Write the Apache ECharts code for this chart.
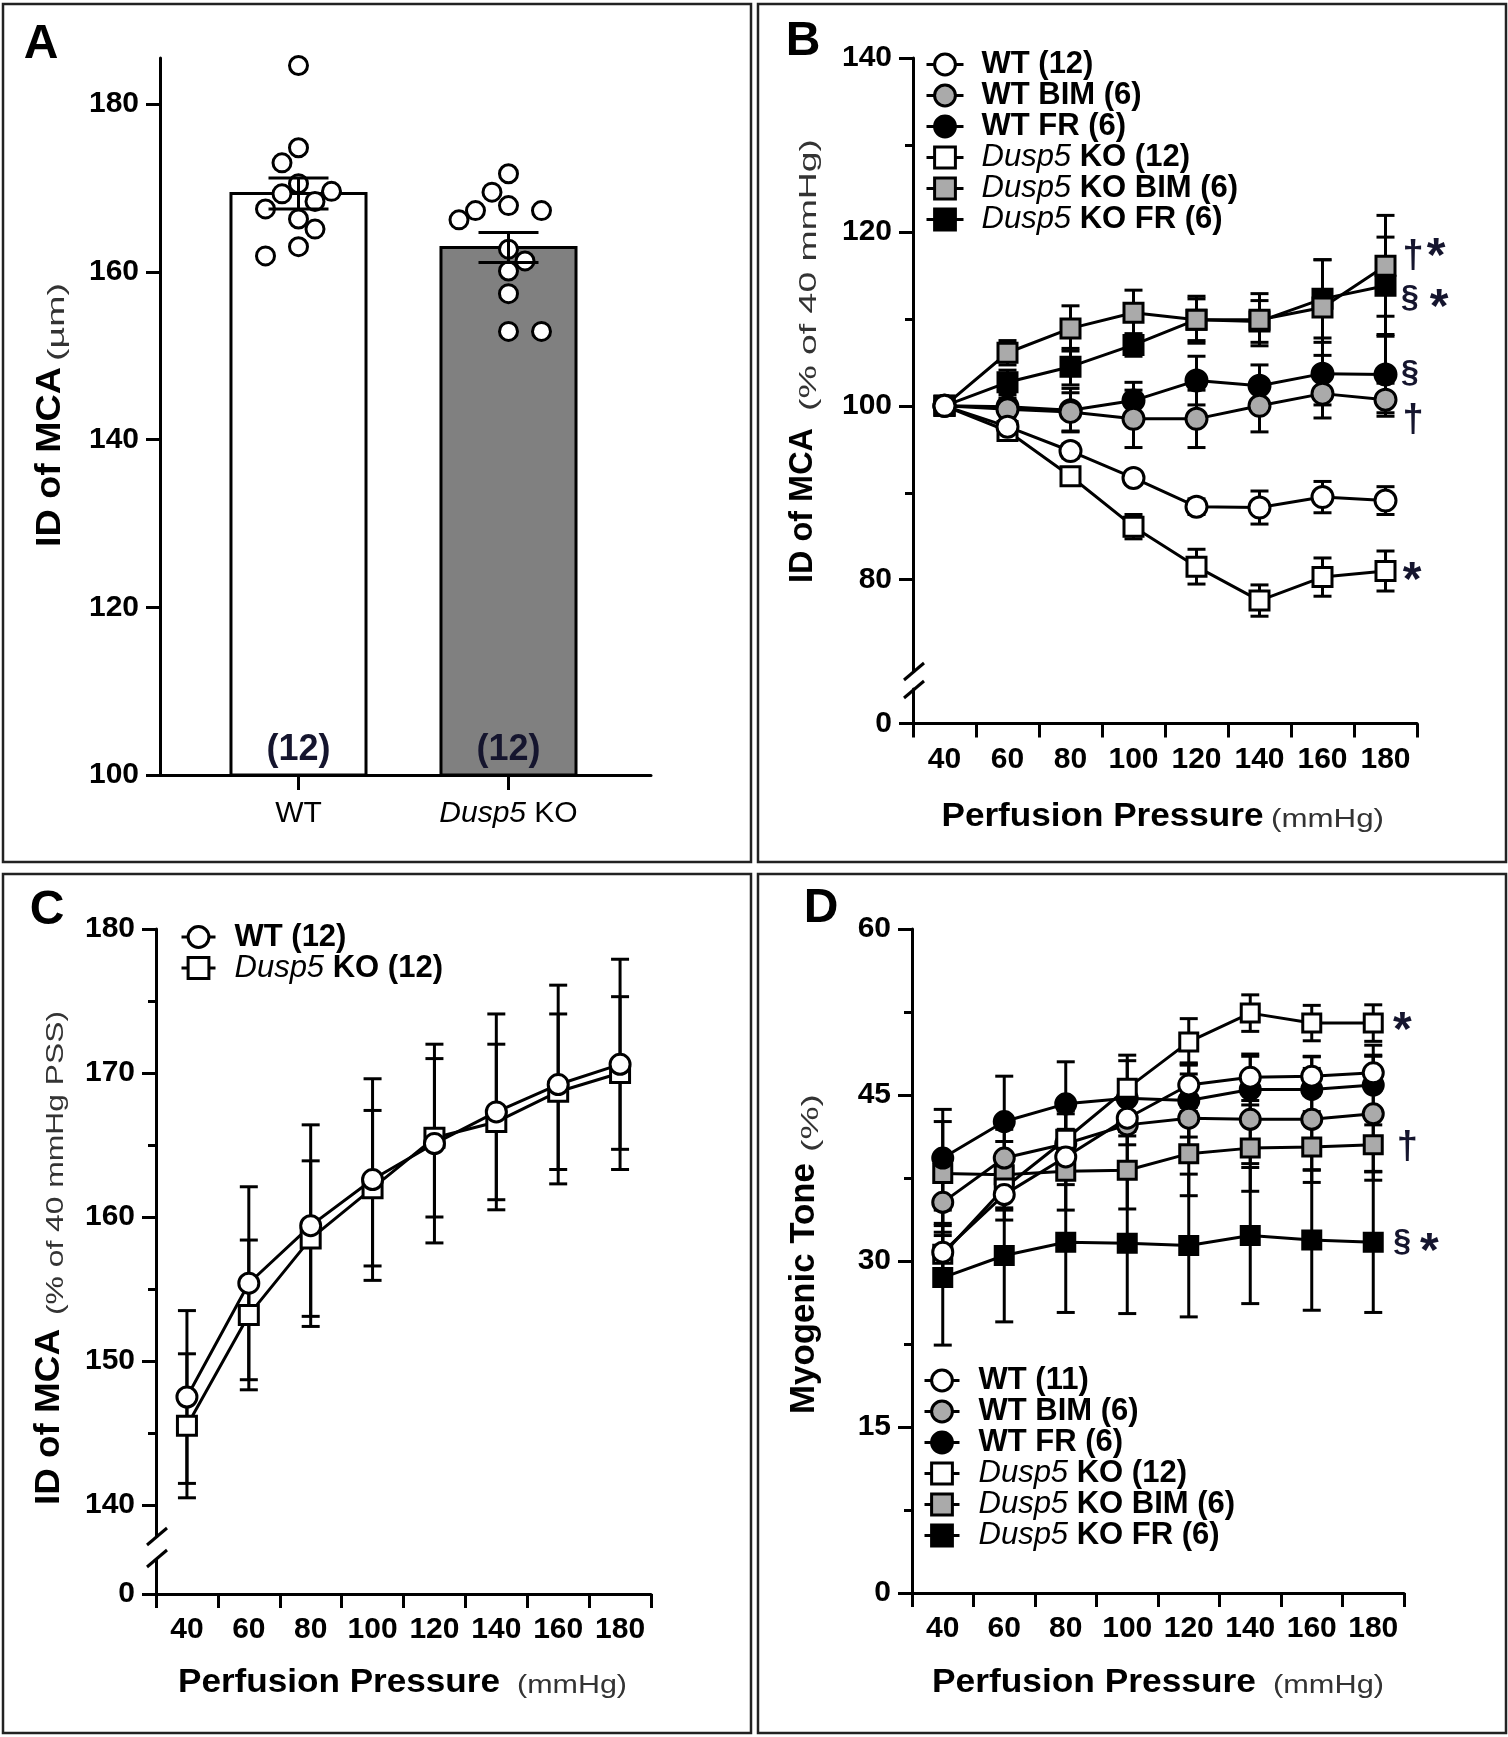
<!DOCTYPE html>
<html><head><meta charset="utf-8">
<script src="https://cdn.jsdelivr.net/npm/echarts@6/dist/echarts.min.js"></script>
<style>html,body{margin:0;padding:0;background:#fff}#c{width:1508px;height:1737px}</style>
</head><body><div id="c"></div>
<script>
// ---------------- DATA ----------------
// Panel A
const groupsA = ['WT', 'Dusp5 KO'];
const dotsWT = [184.6, 174.8, 173.0, 170.5, 169.6, 169.3, 168.4, 167.5, 166.3, 165.1, 163.0, 161.9];
const dotsKO = [171.7, 169.5, 167.9, 167.3, 167.3, 166.2, 162.7, 161.3, 160.1, 157.4, 152.9, 152.9];
const barMeanA = [169.35, 162.9];
const barSemA = [1.85, 1.8];
const barNA = [12, 12];
const ticksA = [100, 120, 140, 160, 180];
const minorTicksA = [110, 130, 150, 170];

// Pressure categories (mmHg)
const pressures = ['40', '60', '80', '100', '120', '140', '160', '180'];

// Panel B: ID of MCA (% of 40 mmHg)
const bWT = [100, 97.6, 94.8, 91.7, 88.4, 88.3, 89.5, 89.1];
const bWTErr = [0, 0.6, 0.8, 0.7, 0.9, 1.9, 1.8, 1.6];
const bWTBIM = [100, 99.6, 99.3, 98.5, 98.5, 100.0, 101.4, 100.7];
const bWTBIMErr = [0, 0.8, 2.2, 3.3, 3.3, 3.0, 2.8, 1.9];
const bWTFR = [100, 99.9, 99.5, 100.6, 102.9, 102.3, 103.7, 103.6];
const bWTFRErr = [0, 1.0, 2.5, 2.1, 2.8, 2.4, 3.6, 4.4];
const bKO = [100, 97.1, 91.9, 86.1, 81.5, 77.6, 80.3, 81.0];
const bKOErr = [0, 0.7, 0.8, 1.4, 2.0, 1.8, 2.2, 2.3];
const bKOBIM = [100, 106.1, 108.9, 110.7, 109.9, 109.9, 111.3, 116.1];
const bKOBIMErr = [0, 1.4, 2.6, 2.6, 2.7, 3.0, 5.5, 5.8];
const bKOFR = [100, 102.7, 104.5, 107.0, 109.9, 109.7, 112.3, 113.8];
const bKOFRErr = [0, 1.4, 2.1, 1.3, 2.4, 2.4, 4.5, 5.6];
const ticksB = [80, 100, 120, 140];
const minorTicksB = [90, 110, 130];

// Panel C: ID of MCA (% of 40 mmHg PSS)
const cWT = [147.5, 155.4, 159.4, 162.6, 165.1, 167.3, 169.2, 170.6];
const cWTErr = [6.0, 6.7, 7.0, 7.0, 6.9, 6.8, 6.9, 7.3];
const cKO = [145.5, 153.2, 158.5, 162.0, 165.5, 166.6, 168.7, 170.0];
const cKOErr = [5.0, 5.2, 5.4, 5.4, 5.5, 5.4, 5.4, 5.3];
const ticksC = [140, 150, 160, 170, 180];
const minorTicksC = [145, 155, 165, 175];

// Panel D: Myogenic tone (%)
const dWT = [30.8, 36.0, 39.4, 42.9, 45.9, 46.6, 46.7, 47.0];
const dWTErr = [2.6, 2.3, 2.5, 2.4, 2.0, 2.1, 1.75, 1.6];
const dWTBIM = [35.3, 39.3, 40.6, 42.3, 42.9, 42.8, 42.8, 43.3];
const dWTBIMErr = [3.0, 2.6, 3.0, 3.5, 4.0, 4.0, 4.6, 5.2];
const dWTFR = [39.3, 42.6, 44.2, 44.7, 44.5, 45.5, 45.5, 45.9];
const dWTFRErr = [4.4, 4.1, 3.8, 3.4, 3.3, 3.0, 3.0, 3.6];
const dKO = [30.6, 36.6, 41.0, 45.6, 49.8, 52.4, 51.5, 51.5];
const dKOErr = [2.0, 2.0, 2.3, 3.0, 2.1, 1.65, 1.6, 1.65];
const dKOBIM = [37.9, 37.8, 38.1, 38.2, 39.7, 40.2, 40.3, 40.5];
const dKOBIMErr = [4.7, 3.0, 3.5, 3.5, 3.8, 3.9, 3.2, 3.2];
const dKOFR = [28.5, 30.5, 31.7, 31.6, 31.4, 32.3, 31.9, 31.7];
const dKOFRErr = [6.1, 6.0, 6.35, 6.35, 6.45, 6.15, 6.35, 6.35];
const ticksD = [0, 15, 30, 45, 60];
const minorTicksD = [7.5, 22.5, 37.5, 52.5];

// Legend names
const legB = ['WT (12)', 'WT BIM (6)', 'WT FR (6)', 'Dusp5 KO (12)', 'Dusp5 KO BIM (6)', 'Dusp5 KO FR (6)'];
const legC = ['WT (12)', 'Dusp5 KO (12)'];
const legD = ['WT (11)', 'WT BIM (6)', 'WT FR (6)', 'Dusp5 KO (12)', 'Dusp5 KO BIM (6)', 'Dusp5 KO FR (6)'];

// ---------------- STYLE / LAYOUT ----------------
const FF = '"Liberation Sans", Arial, Helvetica, sans-serif';
const AX = {color: '#000', width: 3};
const ANN = '#15152e';
const barFillA = ['#ffffff', '#808080'];
const GRAY = '#aaaaaa';
const STY = {
  WT: {symbol: 'circle', fill: '#fff'},
  WTBIM: {symbol: 'circle', fill: GRAY},
  WTFR: {symbol: 'circle', fill: '#000'},
  KO: {symbol: 'rect', fill: '#fff'},
  KOBIM: {symbol: 'rect', fill: GRAY},
  KOFR: {symbol: 'rect', fill: '#000'}
};
// Panel A geometry
const A_L = 160, A_T = 58, A_W = 491, A_H = 717;
const A_XMIN = -0.6595, A_XMAX = 1.6786, A_YMIN = 100, A_YMAX = 185.5;
const BAR_W = 0.643;

const chart = echarts.init(document.getElementById('c'), null, {renderer: 'canvas', width: 1508, height: 1737});

// beeswarm layout for dots (computed from the values)
const pxPerXA = A_W / (A_XMAX - A_XMIN);
const pxPerYA = A_H / (A_YMAX - A_YMIN);
function swarm(vals) {
  const STEP = 16.5, D = 19;
  const idx = vals.map((v, i) => i).sort((a, b) => vals[b] - vals[a]);
  const placed = []; const off = new Array(vals.length).fill(0);
  let neg = 0, pos = 0;
  for (const i of idx) {
    const y = vals[i] * pxPerYA;
    const cands = [0];
    for (let k = 1; k <= 3; k++) { if (neg <= pos) cands.push(-k, k); else cands.push(k, -k); }
    let chosen = cands[cands.length - 1];
    for (const c of cands) {
      const x = c * STEP;
      if (placed.every(p => Math.hypot(p.x - x, p.y - y) >= D)) { chosen = c; break; }
    }
    placed.push({x: chosen * STEP, y});
    off[i] = chosen * STEP / pxPerXA;
    if (chosen < 0) neg++; else if (chosen > 0) pos++;
  }
  return off;
}
const offWT = swarm(dotsWT), offKO = swarm(dotsKO);

function errRender(cap, lw) {
  return function (params, api) {
    const x = api.value(0), m = api.value(1), e = api.value(2);
    if (!(e > 0)) return {type: 'group', children: []};
    const hi = api.coord([x, m + e]), lo = api.coord([x, m - e]);
    const h = cap / 2;
    const st = {stroke: '#000', lineWidth: lw};
    return {type: 'group', children: [
      {type: 'line', shape: {x1: hi[0], y1: hi[1], x2: lo[0], y2: lo[1]}, style: st},
      {type: 'line', shape: {x1: hi[0] - h, y1: hi[1], x2: hi[0] + h, y2: hi[1]}, style: st},
      {type: 'line', shape: {x1: lo[0] - h, y1: lo[1], x2: lo[0] + h, y2: lo[1]}, style: st}
    ]};
  };
}
function errSeries(means, errs, xi, yi, cap) {
  return {type: 'custom', xAxisIndex: xi, yAxisIndex: yi, silent: true, z: 1,
    encode: {x: 0, y: 1}, data: means.map((m, i) => [i, m, errs[i]]), renderItem: errRender(cap, 3)};
}
function lineSeries(id, name, data, kind, xi, yi, cs, rs) {
  const s = STY[kind];
  return {type: 'line', id, name, xAxisIndex: xi, yAxisIndex: yi, data, z: 2,
    symbol: s.symbol, symbolSize: s.symbol === 'circle' ? cs : rs, showSymbol: true, showAllSymbol: true,
    clip: false, silent: true, emphasis: {disabled: true},
    lineStyle: {color: '#000', width: 3}, itemStyle: {color: s.fill, borderColor: '#000', borderWidth: 3, opacity: 1}};
}
function yMajor(gi, min, max, ticks) {
  return {type: 'value', gridIndex: gi, min, max, position: 'left',
    axisLine: {show: true, onZero: false, lineStyle: AX},
    axisTick: {show: true, length: 14, lineStyle: AX, customValues: ticks},
    axisLabel: {show: true, customValues: ticks, margin: 21, color: '#000', fontFamily: FF, fontSize: 30, fontWeight: 'bold'},
    splitLine: {show: false}};
}
function yMinor(gi, min, max, ticks) {
  return {type: 'value', gridIndex: gi, min, max, position: 'left',
    axisLine: {show: false}, axisTick: {show: true, length: 8, lineStyle: AX, customValues: ticks},
    axisLabel: {show: false}, splitLine: {show: false}};
}
function xCat(gi, show) {
  return {type: 'category', gridIndex: gi, data: pressures, boundaryGap: true, show,
    axisLine: {show: true, onZero: false, lineStyle: AX},
    axisTick: {show: true, length: 14, interval: 0, lineStyle: AX},
    axisLabel: {show: true, interval: 0, margin: 21, color: '#000', fontFamily: FF, fontSize: 30, fontWeight: 'bold'},
    splitLine: {show: false}};
}
function legendCfg(names, left, top, rowH, iconW, padL) {
  return {orient: 'vertical', left, top, padding: 0, itemGap: 0, itemWidth: iconW, itemHeight: 26,
    data: names, selectedMode: false,
    lineStyle: {width: 3}, itemStyle: {borderWidth: 3},
    textStyle: {color: '#000', rich: {
      b0: {fontFamily: FF, fontSize: 31, fontWeight: 'bold', lineHeight: rowH, padding: [0, 0, 0, padL]},
      b: {fontFamily: FF, fontSize: 31, fontWeight: 'bold', lineHeight: rowH},
      i0: {fontFamily: FF, fontSize: 31, fontStyle: 'italic', fontWeight: 'normal', lineHeight: rowH, padding: [0, 0, 0, padL]}
    }},
    formatter: nm => nm.indexOf('Dusp5') === 0 ? '{i0|Dusp5}{b|' + nm.slice(5) + '}' : '{b0|' + nm + '}'};
}

const grids = [
  {left: A_L, top: A_T, width: A_W, height: A_H},          // 0 A
  {left: 913, top: 58, width: 504, height: 613},           // 1 B upper
  {left: 913, top: 689, width: 504, height: 34.5},         // 2 B lower
  {left: 156, top: 929, width: 495, height: 607},          // 3 C upper
  {left: 156, top: 1560, width: 495, height: 34},          // 4 C lower
  {left: 912, top: 929, width: 492, height: 664}           // 5 D
].map(g => Object.assign({containLabel: false, outerBoundsMode: 'none'}, g));

const xAxes = [
  {type: 'value', gridIndex: 0, min: A_XMIN, max: A_XMAX,
    axisLine: {show: true, onZero: false, lineStyle: AX},
    axisTick: {show: true, length: 15, lineStyle: AX, customValues: [0, 1]},
    axisLabel: {show: true, customValues: [0, 1], margin: 24, color: '#000',
      formatter: v => { const n = groupsA[Math.round(v)]; return n.indexOf('Dusp5') === 0 ? '{i|Dusp5}{n|' + n.slice(5) + '}' : '{n|' + n + '}'; },
      rich: {n: {fontFamily: FF, fontSize: 30, fontWeight: 'normal', color: '#000'},
             i: {fontFamily: FF, fontSize: 30, fontStyle: 'italic', fontWeight: 'normal', color: '#000'}}},
    splitLine: {show: false}},
  xCat(1, false), xCat(2, true), xCat(3, false), xCat(4, true), xCat(5, true)
];
const yAxes = [
  yMajor(0, A_YMIN, A_YMAX, ticksA), yMinor(0, A_YMIN, A_YMAX, minorTicksA),           // 0,1
  yMajor(1, 69.5, 140, ticksB), yMinor(1, 69.5, 140, minorTicksB),                     // 2,3
  yMajor(2, 0, 34.5 / 8.695, [0]),                                                     // 4
  yMajor(3, 180 - 607 / 14.4, 180, ticksC), yMinor(3, 180 - 607 / 14.4, 180, minorTicksC), // 5,6
  yMajor(4, 0, 34 / 14.4, [0]),                                                        // 7
  yMajor(5, 0, 60, ticksD), yMinor(5, 0, 60, minorTicksD)                              // 8,9
];

const series = [];
// Panel A
series.push({type: 'custom', xAxisIndex: 0, yAxisIndex: 0, z: 1, silent: true, encode: {x: 0, y: 1},
  data: barMeanA.map((m, i) => [i, m, barNA[i]]),
  renderItem: (params, api) => {
    const i = api.value(0), m = api.value(1);
    const top = api.coord([i, m]), base = api.coord([i, A_YMIN]);
    const w = api.size([BAR_W, 0])[0];
    return {type: 'group', children: [
      {type: 'rect', shape: {x: top[0] - w / 2, y: top[1], width: w, height: base[1] - top[1]},
        style: {fill: barFillA[i], stroke: '#000', lineWidth: 3}},
      {type: 'text', x: base[0], y: base[1] - 25,
        style: {text: '(' + api.value(2) + ')', fontFamily: FF, fontSize: 36, fontWeight: 'bold', fill: ANN, align: 'center', verticalAlign: 'middle'}}
    ]};
  }});
series.push({type: 'scatter', xAxisIndex: 0, yAxisIndex: 0, z: 2, silent: true, symbol: 'circle', symbolSize: 18,
  itemStyle: {color: '#fff', borderColor: '#000', borderWidth: 3, opacity: 1},
  data: dotsWT.map((v, i) => [0 + offWT[i], v]).concat(dotsKO.map((v, i) => [1 + offKO[i], v]))});
series.push({type: 'custom', xAxisIndex: 0, yAxisIndex: 0, z: 3, silent: true, encode: {x: 0, y: 1},
  data: barMeanA.map((m, i) => [i, m, barSemA[i]]), renderItem: errRender(60, 3)});

// Panel B (upper grid: xAxis 1, yAxis 2)
const bSets = [['bKOFR', 'Dusp5 KO FR (6)', bKOFR, bKOFRErr, 'KOFR'], ['bKOBIM', 'Dusp5 KO BIM (6)', bKOBIM, bKOBIMErr, 'KOBIM'],
  ['bWTFR', 'WT FR (6)', bWTFR, bWTFRErr, 'WTFR'], ['bWTBIM', 'WT BIM (6)', bWTBIM, bWTBIMErr, 'WTBIM'],
  ['bKO', 'Dusp5 KO (12)', bKO, bKOErr, 'KO'], ['bWT', 'WT (12)', bWT, bWTErr, 'WT']];
bSets.forEach(s => series.push(errSeries(s[2], s[3], 1, 2, 18)));
bSets.forEach(s => series.push(lineSeries(s[0], s[1], s[2], s[4], 1, 2, 21, 19)));

// Panel C (xAxis 3, yAxis 5)
const cSets = [['cKO', 'Dusp5 KO (12)', cKO, cKOErr, 'KO'], ['cWT', 'WT (12)', cWT, cWTErr, 'WT']];
cSets.forEach(s => series.push(errSeries(s[2], s[3], 3, 5, 18)));
cSets.forEach(s => series.push(lineSeries(s[0], s[1], s[2], s[4], 3, 5, 20, 19)));

// Panel D (xAxis 5, yAxis 8)
const dSets = [['dKOBIM', 'Dusp5 KO BIM (6)', dKOBIM, dKOBIMErr, 'KOBIM'], ['dKOFR', 'Dusp5 KO FR (6)', dKOFR, dKOFRErr, 'KOFR'],
  ['dWTFR', 'WT FR (6)', dWTFR, dWTFRErr, 'WTFR'], ['dWTBIM', 'WT BIM (6)', dWTBIM, dWTBIMErr, 'WTBIM'],
  ['dKO', 'Dusp5 KO (12)', dKO, dKOErr, 'KO'], ['dWT', 'WT (11)', dWT, dWTErr, 'WT']];
dSets.forEach(s => series.push(errSeries(s[2], s[3], 5, 8, 18)));
dSets.forEach(s => series.push(lineSeries(s[0], s[1], s[2], s[4], 5, 8, 20, 18)));

chart.setOption({
  animation: false,
  backgroundColor: '#fff',
  textStyle: {fontFamily: FF},
  grid: grids, xAxis: xAxes, yAxis: yAxes, series,
  legend: [legendCfg(legB, 925, 49, 35, 37, 13), legendCfg(legC, 180, 921.5, 41, 34, 14), legendCfg(legD, 923, 1365, 36, 35, 14)]
});

// ---------------- GRAPHIC (frames, letters, titles, breaks, annotations) ----------------
const mctx = document.createElement('canvas').getContext('2d');
function tw(style, weight, size, s) { mctx.font = style + ' ' + weight + ' ' + size + 'px ' + FF; return mctx.measureText(s).width; }
function vText(text, weight, size, cx, yBottom, yTop, color) {
  const sc = (yBottom - yTop) / tw('normal', weight, size, text);
  return {type: 'text', x: cx, y: yBottom, rotation: Math.PI / 2, scaleX: sc, silent: true,
    style: {text, fontFamily: FF, fontSize: size, fontWeight: weight, fill: color, align: 'left', verticalAlign: 'middle'}};
}
function hText(text, weight, size, xL, xR, cy, color) {
  const sc = (xR - xL) / tw('normal', weight, size, text);
  return {type: 'text', x: xL, y: cy, scaleX: sc, silent: true,
    style: {text, fontFamily: FF, fontSize: size, fontWeight: weight, fill: color, align: 'left', verticalAlign: 'middle'}};
}
function letter(t, cx, cy) {
  return {type: 'text', x: cx, y: cy, silent: true,
    style: {text: t, fontFamily: FF, fontSize: 48, fontWeight: 'bold', fill: '#000', align: 'center', verticalAlign: 'middle'}};
}
function frame(x, y, w, h) {
  return {type: 'rect', silent: true, shape: {x, y, width: w, height: h}, style: {fill: 'none', stroke: '#222', lineWidth: 2.5}};
}
function brk(x, y) {
  return {type: 'line', silent: true, shape: {x1: x - 9, y1: y + 8, x2: x + 11, y2: y - 9}, style: {stroke: '#000', lineWidth: 3}};
}
const g = [
  frame(3, 4, 748, 858), frame(758, 4, 748, 858), frame(3, 874, 748, 859), frame(758, 874, 748, 859),
  letter('A', 41, 45), letter('B', 803, 42), letter('C', 47, 911), letter('D', 821, 909),
  vText('ID of MCA', 'bold', 35, 50, 547, 367, '#000'), vText('(µm)', 'normal', 24, 57, 361, 283, '#333'),
  vText('ID of MCA', 'bold', 33, 803, 583, 428, '#000'), vText('(% of 40 mmHg)', 'normal', 24, 809, 411, 139, '#333'),
  vText('ID of MCA', 'bold', 35, 49, 1505, 1329, '#000'), vText('(% of 40 mmHg PSS)', 'normal', 24, 56, 1315, 1011, '#333'),
  vText('Myogenic Tone', 'bold', 35, 804, 1414, 1163, '#000'), vText('(%)', 'normal', 24, 811, 1152, 1094, '#333'),
  hText('Perfusion Pressure', 'bold', 33, 941.5, 1263.5, 817, '#000'), hText('(mmHg)', 'normal', 25, 1271, 1384, 820, '#333'),
  hText('Perfusion Pressure', 'bold', 33, 178, 500, 1683, '#000'), hText('(mmHg)', 'normal', 25, 517, 627, 1686, '#333'),
  hText('Perfusion Pressure', 'bold', 33, 932, 1256, 1683, '#000'), hText('(mmHg)', 'normal', 25, 1273, 1384, 1686, '#333'),
  brk(913, 672), brk(913, 690), brk(156, 1537), brk(156, 1559)
];
// significance marks next to the last point of a series
const ANN_FONT = {'†': [38, 0], '§': [32, 0], '*': [48, 11]};
const annotations = [
  ['bKOBIM', [['†', 27.5, -9], ['*', 50.5, -19]]],
  ['bKOFR', [['§', 24.5, 12], ['*', 53.5, 12]]],
  ['bWTFR', [['§', 24.5, -1]]],
  ['bWTBIM', [['†', 27.5, 21]]],
  ['bKO', [['*', 26.5, 0]]],
  ['dKO', [['*', 29, -2]]],
  ['dKOBIM', [['†', 34, 3]]],
  ['dKOFR', [['§', 29, 0], ['*', 56, 0]]]
];
const seriesData = {};
series.forEach(s => { if (s.id) seriesData[s.id] = s.data; });
annotations.forEach(([id, parts]) => {
  const d = seriesData[id]; const last = d.length - 1;
  const p = chart.convertToPixel({seriesId: id}, [last, d[last]]);
  parts.forEach(([t, dx, dy]) => {
    const f = ANN_FONT[t];
    g.push({type: 'text', x: p[0] + dx, y: p[1] + dy + f[1], silent: true, z: 10,
      style: {text: t, fontFamily: FF, fontSize: f[0], fontWeight: 'bold', fill: ANN, align: 'center', verticalAlign: 'middle'}});
  });
});
chart.setOption({graphic: g});
</script>
</body></html>
